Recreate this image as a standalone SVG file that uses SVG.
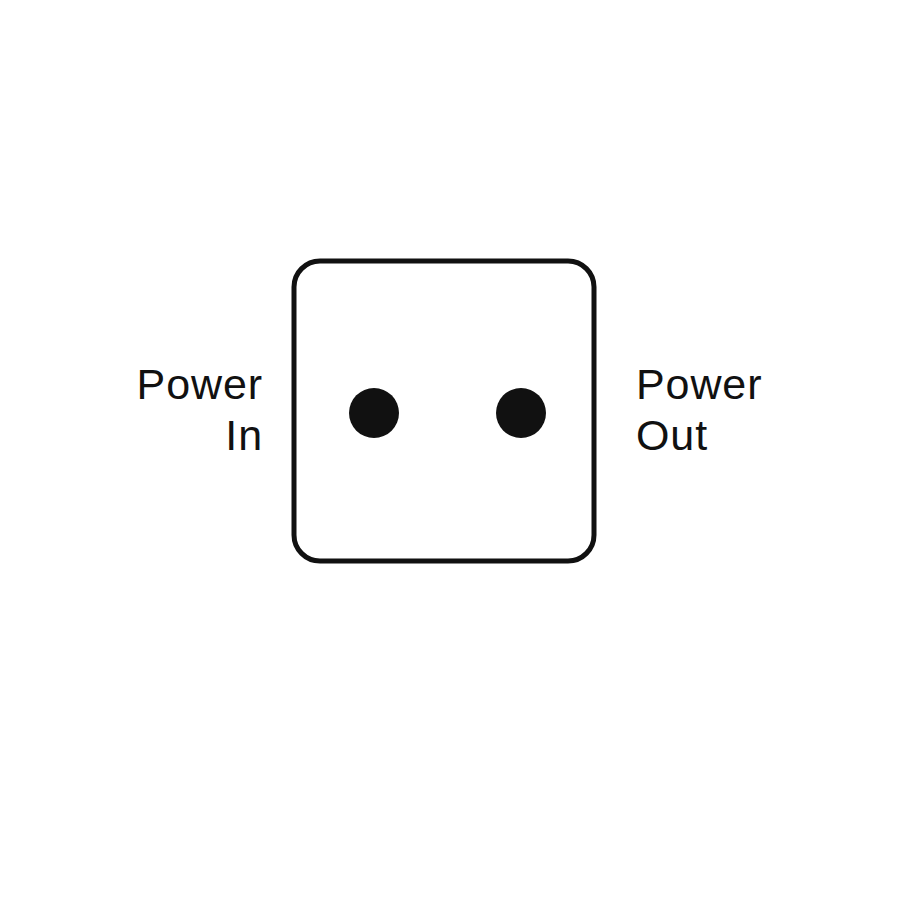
<svg xmlns="http://www.w3.org/2000/svg" width="900" height="900" viewBox="0 0 900 900">
<style>
.lbl{font-family:"Liberation Sans",Arial,sans-serif;font-size:43px;letter-spacing:0.9px;fill:#111}
.dot{fill:#111}
</style>
<rect width="900" height="900" fill="#fff"/>
<g id="switch">
<rect x="294" y="261" width="300" height="300" rx="26" ry="26" fill="#fff" stroke="#111" stroke-width="5"/>
<circle class="dot" cx="374" cy="413" r="25"/>
<circle class="dot" cx="521" cy="413" r="25"/>
</g>
<g id="power-in">
<text class="lbl" x="263" y="399" text-anchor="end">Power</text>
<text class="lbl" x="263" y="450" text-anchor="end">In</text>
</g>
<g id="power-out">
<text class="lbl" x="636" y="399">Power</text>
<text class="lbl" x="636" y="450">Out</text>
</g>
<g id="connectors"/>
</svg>
